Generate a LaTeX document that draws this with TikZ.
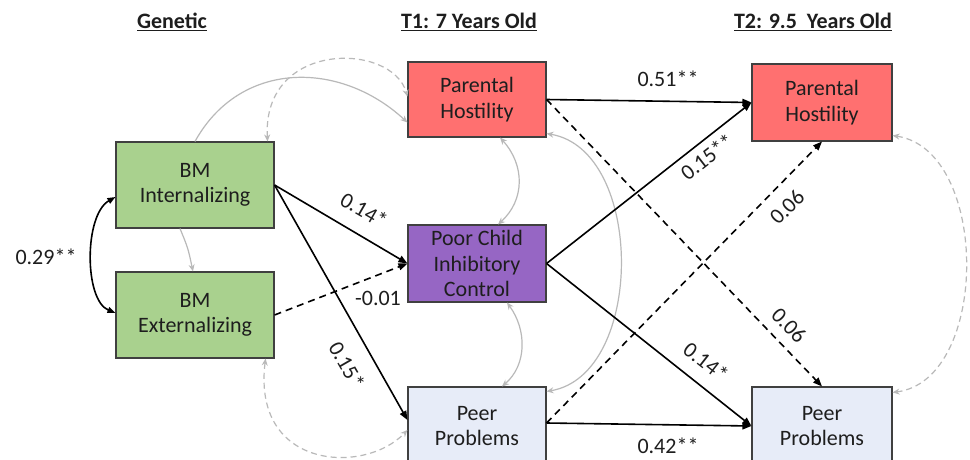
\documentclass[tikz,border=0pt]{standalone}
\usepackage{fontspec}
\setmainfont{Carlito}
\usetikzlibrary{arrows.meta,calc}
\definecolor{gfill}{RGB}{169,209,142}
\definecolor{rfill}{RGB}{255,112,112}
\definecolor{pfill}{RGB}{150,102,196}
\definecolor{bfill}{RGB}{231,236,248}
\definecolor{bline}{RGB}{64,64,64}
\definecolor{txt}{RGB}{30,30,30}
\definecolor{gline}{RGB}{185,185,185}
\begin{document}
\begin{tikzpicture}[x=1pt,y=-1pt,
  box/.style={draw=bline, line width=1.1pt, align=center, inner sep=0pt,
    font=\fontsize{22}{25.5}\selectfont, text=txt},
  ttl/.style={font=\fontsize{22}{25}\selectfont\bfseries, text=txt},
  lbl/.style={font=\fontsize{22}{25}\selectfont, text=txt, inner sep=0pt},
  blk/.style={line width=1.6pt, draw=black, -{Triangle[length=9pt,width=7pt]}},
  blkd/.style={blk, dash pattern=on 7pt off 5pt},
  gry/.style={line width=1.2pt, draw=gline, -{Stealth[length=7pt,width=6pt]}},
  gryd/.style={gry, dash pattern=on 6pt off 4pt},
  gry2/.style={line width=1.2pt, draw=gline, {Stealth[length=7pt,width=6pt]}-{Stealth[length=7pt,width=6pt]}},
  gry2d/.style={gry2, dash pattern=on 6pt off 4pt},
  blk2/.style={line width=1.6pt, draw=black, {Triangle[length=8pt,width=6pt]}-{Triangle[length=8pt,width=6pt]}}
]
\useasboundingbox (0,0) rectangle (970,460);
\fill[white] (0,0) rectangle (970,460);

% titles
\node[ttl] (tg) at (172,22) {\underline{Genetic}};
\node[ttl] (t1) at (469,22) {\underline{T1: 7 Years Old}};
\node[ttl] (t2) at (813,22) {\underline{T2: 9.5\ \ Years Old}};

% boxes
\node[box, fill=gfill, minimum width=158pt, minimum height=86pt] (bmi) at (195,185) {BM\\Internalizing};
\node[box, fill=gfill, minimum width=158pt, minimum height=86pt] (bme) at (195,315) {BM\\Externalizing};
\node[box, fill=rfill, minimum width=138pt, minimum height=75pt] (ph1) at (477,99.5) {Parental\\Hostility};
\node[box, fill=pfill, minimum width=138pt, minimum height=77pt] (pc) at (477,263.5) {Poor Child\\Inhibitory\\Control};
\node[box, fill=bfill, minimum width=138pt, minimum height=78pt] (pp1) at (477,426) {Peer\\Problems};
\node[box, fill=rfill, minimum width=140pt, minimum height=77pt] (ph2) at (822,102.5) {Parental\\Hostility};
\node[box, fill=bfill, minimum width=140pt, minimum height=78pt] (pp2) at (822,426) {Peer\\Problems};

% gray covariance / paths
\draw[gry] (bmi.north) .. controls (240,60) and (340,60) .. ($(ph1.west)+(0,23)$);
\draw[gry2d] ($(bmi.north east)+(-7,0)$) .. controls (262,40) and (392,42) .. ($(ph1.west)+(0,-3)$);
\draw[gry] ($(bmi.south)+(-15,0)$) .. controls (188,248) .. ($(bme.north)+(-2,0)$);
\draw[gry2d] ($(bme.south east)+(-9,0)$) .. controls (252,470) and (365,475) .. ($(pp1.west)+(0,4)$);
\draw[gry2] ($(ph1.south)+(23,0)$) .. controls (525,165) and (525,200) .. ($(pc.north)+(21,0)$);
\draw[gry2] ($(pc.south)+(30,0)$) .. controls (527,330) and (527,365) .. ($(pp1.north)+(25,0)$);
\draw[gry2] ($(ph1.south east)+(0,-4)$) .. controls (645,150) and (645,375) .. ($(pp1.north east)+(0,5)$);
\draw[gry2d] ($(ph2.south east)+(0,-6)$) .. controls (990,150) and (990,380) .. ($(pp2.north east)+(0,6)$);

% black paths
\draw[blk2] ($(bmi.west)+(0,12)$) .. controls (84,215) and (84,300) .. ($(bme.west)+(0,-2)$);
\draw[blk] (bmi.east) -- (pc.west);
\draw[blk] (bmi.east) -- ($(pp1.west)+(0,-6)$);
\draw[blkd] (bme.east) -- (pc.west);
\draw[blk] (ph1.east) -- (ph2.west);
\draw[blk] (pc.east) -- (ph2.west);
\draw[blk] (pc.east) -- (pp2.west);
\draw[blk] ($(pp1.east)+(0,-3)$) -- (pp2.west);
\draw[blkd] (ph1.east) -- (pp2.north);
\draw[blkd] ($(pp1.east)+(0,-3)$) -- (ph2.south);

% labels
\node[lbl] (l029) at (46,257) {0.29**};
\node[lbl, rotate=-30] (l014a) at (364,210) {0.14*};
\node[lbl, rotate=-60] (l015a) at (347,365) {0.15*};
\node[lbl] (l001) at (378,298) {-0.01};
\node[lbl] (l051) at (668,79) {0.51**};
\node[lbl, rotate=38] (l015b) at (707,157) {0.15**};
\node[lbl, rotate=45] (l006a) at (787,207) {0.06};
\node[lbl, rotate=-46] (l006b) at (789,325) {0.06};
\node[lbl, rotate=-38] (l014b) at (706,362) {0.14*};
\node[lbl] (l042) at (668,446) {0.42**};
\end{tikzpicture}
\end{document}
